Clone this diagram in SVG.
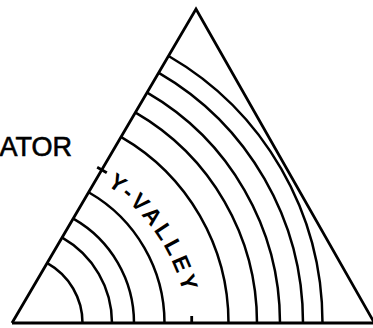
<svg xmlns="http://www.w3.org/2000/svg" width="373" height="328" viewBox="0 0 373 328">
<style>
.ln{fill:none;stroke:#000;stroke-width:2.8;stroke-linejoin:miter;stroke-miterlimit:20}
.arc{fill:none;stroke:#000;stroke-width:2.5}
.lbl{font-family:"Liberation Sans",Arial,sans-serif;fill:#000}
</style>
<rect width="373" height="328" fill="#fff"/>
<g id="arcs">
<path class="arc" d="M47.7,263.4 A68.5,68.5 0 0 1 82.5,323"/>
<path class="arc" d="M62.6,237.9 A98,98 0 0 1 112,323"/>
<path class="arc" d="M73.7,218.9 A120,120 0 0 1 134,323"/>
<path class="arc" d="M89,192.5 A150.5,150.5 0 0 1 164.5,323"/>
<path class="arc" d="M121.3,137.2 A214.5,214.5 0 0 1 228.5,323"/>
<path class="arc" d="M135.6,112.6 A243,243 0 0 1 257,323"/>
<path class="arc" d="M147.2,92.7 A266,266 0 0 1 280,323"/>
<path class="arc" d="M158.8,72.8 A289,289 0 0 1 303,323"/>
<path class="arc" d="M168.6,56 A308.5,308.5 0 0 1 322.5,323"/>
</g>
<g id="triangle">
<path class="ln" d="M12,323 L196,9 L375,324"/>
<path class="ln" d="M12,323 L373,323"/>
</g>
<g id="ticks">
<path class="ln" d="M97.2,167.2 L106.8,172.8"/>
<path class="ln" d="M191.7,316 L191.7,323"/>
</g>
<g id="labels">
<text class="lbl" x="72" y="156" font-size="27" stroke="#000" stroke-width="0.6" text-anchor="end">ATOR</text>
<path id="vp" d="M106.8,184.9 A186.5,186.5 0 0 1 184.9,300.7" fill="none"/>
<text class="lbl" font-size="23" font-weight="bold"><textPath href="#vp" textLength="134" lengthAdjust="spacing">Y-VALLEY</textPath></text>
</g>
</svg>
